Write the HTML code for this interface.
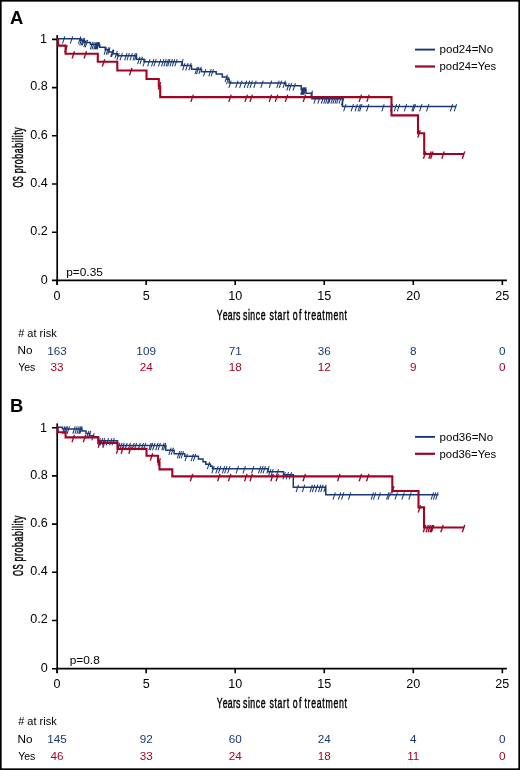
<!DOCTYPE html>
<html><head><meta charset="utf-8"><title>Kaplan-Meier OS curves</title>
<style>
html,body{margin:0;padding:0;background:#fff;}
body{width:520px;height:770px;overflow:hidden;}
svg{display:block;will-change:transform;font-family:"Liberation Sans",sans-serif;}
</style></head><body>
<svg width="520" height="770" viewBox="0 0 520 770">
<rect x="0" y="0" width="520" height="770" fill="#fff"/>
<g>
<text x="10.05" y="23.75" font-size="18.4" font-weight="bold">A</text>
<path d="M57.2 35.1V284.8" stroke="#000" stroke-width="1.7" fill="none"/>
<path d="M56.2 280.4H506.9" stroke="#000" stroke-width="1.8" fill="none"/>
<text transform="translate(47.85 284) scale(1.05 1)" font-size="12" text-anchor="end">0</text>
<text transform="translate(47.85 234.8) scale(1.05 1)" font-size="12" text-anchor="end">0.2</text>
<text transform="translate(47.85 186.8) scale(1.05 1)" font-size="12" text-anchor="end">0.4</text>
<text transform="translate(47.85 138.6) scale(1.05 1)" font-size="12" text-anchor="end">0.6</text>
<text transform="translate(47.85 90.2) scale(1.05 1)" font-size="12" text-anchor="end">0.8</text>
<text transform="translate(46.95 43.4) scale(1.05 1)" font-size="12" text-anchor="end">1</text>
<text transform="translate(57.1 299.5) scale(1.05 1)" font-size="12" text-anchor="middle">0</text>
<text transform="translate(146.15 299.5) scale(1.05 1)" font-size="12" text-anchor="middle">5</text>
<text transform="translate(235.2 299.5) scale(1.05 1)" font-size="12" text-anchor="middle">10</text>
<text transform="translate(324.25 299.5) scale(1.05 1)" font-size="12" text-anchor="middle">15</text>
<text transform="translate(413.3 299.5) scale(1.05 1)" font-size="12" text-anchor="middle">20</text>
<text transform="translate(502.35 299.5) scale(1.05 1)" font-size="12" text-anchor="middle">25</text>
<path d="M52 280.4H57M52 232.2H57M52 184H57M52 135.8H57M52 87.6H57M52 39.4H57M57.1 280.4V284.9M146.15 280.4V284.9M235.2 280.4V284.9M324.25 280.4V284.9M413.3 280.4V284.9M502.35 280.4V284.9" stroke="#000" stroke-width="1.6" fill="none"/>
<text transform="translate(0 320.1) scale(0.6000 1)" x="361.32 371.36 379.78 388.2 393.37" y="0" font-size="14.6" stroke="#000" stroke-width="0.45">Years</text>
<text transform="translate(0 320.1) scale(0.6000 1)" x="404.93 413.13 417.28 426.3 434.5" y="0" font-size="14.6" stroke="#000" stroke-width="0.45">since</text>
<text transform="translate(0 320.1) scale(0.6000 1)" x="449.1 457.47 462.6 471.79 477.72" y="0" font-size="14.6" stroke="#000" stroke-width="0.45">start</text>
<text transform="translate(0 320.1) scale(0.6000 1)" x="487.73 498.23" y="0" font-size="14.6" stroke="#000" stroke-width="0.45">of</text>
<text transform="translate(0 320.1) scale(0.6000 1)" x="507.47 512.69 518.71 527.99 537.28 542.5 555.82 565.1 574.38" y="0" font-size="14.6" stroke="#000" stroke-width="0.45">treatment</text>
<text transform="translate(23.2 0) rotate(-90) scale(0.5277 1)" x="-355.48 -343.55" y="0" font-size="14.6" stroke="#000" stroke-width="0.45">OS</text>
<text transform="translate(23.2 0) rotate(-90) scale(0.6000 1)" x="-288.62 -279.5 -273.64 -264.53 -255.41 -246.3 -237.18 -232.94 -228.71 -224.47 -219.42" y="0" font-size="14.6" stroke="#000" stroke-width="0.45">probability</text>
<text transform="translate(66.2 276) scale(1.08 1)" font-size="11">p=0.35</text>
<path d="M415 49.6H435" stroke="#1a3876" stroke-width="1.9"/>
<path d="M415 66.5H435" stroke="#a00424" stroke-width="2.2"/>
<text transform="translate(439.55 53.1) scale(1.05 1)" font-size="11">pod24=No</text>
<text transform="translate(439.55 69.5) scale(1.03 1)" font-size="11">pod24=Yes</text>
<g transform="translate(0 -0.35)"><path d="M57.1 39.2H80.4V40.9H84.2V42.8H90.4V44.9H99.7V47.6H105.2V50.2H109V52.4H112.9V54H117.3V56H136.5V59.6H144V62H182.3V65.9H191.5V69.7H201.5V72H216.2V74.3H222.3V77.4H227V79.7H229.2V83.4H285.8V86.1H301.2V90.2H306V93.6H311.9V99.1H342.5V106.9H456.2" stroke="#1a3876" stroke-width="1.5" fill="none"/>
<path d="M64.9 36.7L62.5 44M72.7 36.7L70.3 44M80.8 36.7L78.4 44M82 38.4L79.6 45.7M83.5 38.4L81.1 45.7M84.7 38.4L82.3 45.7M86.2 40.3L83.8 47.6M87.7 40.3L85.3 47.6M92.7 42.4L90.3 49.7M94.3 42.4L91.9 49.7M96.1 42.4L93.7 49.7M97.3 42.4L94.9 49.7M98.4 42.4L96 49.7M99.5 42.4L97.1 49.7M106.5 47.7L104.1 55M108.6 47.7L106.2 55M110.1 47.7L107.7 55M113 49.9L110.6 57.2M113.9 49.9L111.5 57.2M117.3 51.5L114.9 58.8M119.2 53.5L116.8 60.8M122.4 53.5L120 60.8M127 53.5L124.6 60.8M129.3 53.5L126.9 60.8M132.4 53.5L130 60.8M135.4 53.5L133 60.8M137 53.5L134.6 60.8M140 57.1L137.6 64.4M142.4 57.1L140 64.4M145.4 59.5L143 66.8M150 59.5L147.6 66.8M153.9 59.5L151.5 66.8M156.2 59.5L153.8 66.8M160.8 59.5L158.4 66.8M163.9 59.5L161.5 66.8M166.2 59.5L163.8 66.8M168.5 59.5L166.1 66.8M170 59.5L167.6 66.8M172.4 59.5L170 66.8M174.7 59.5L172.3 66.8M177.2 59.5L174.8 66.8M183.2 59.5L180.8 66.8M185 63.4L182.6 70.7M188.1 63.4L185.7 70.7M191.2 63.4L188.8 70.7M197.4 67.2L195 74.5M198.9 67.2L196.5 74.5M201.2 67.2L198.8 74.5M205.8 69.5L203.4 76.8M211.2 69.5L208.8 76.8M213.5 69.5L211.1 76.8M227.4 74.9L225 82.2M228.9 77.2L226.5 84.5M231.2 80.9L228.8 88.2M238.1 80.9L235.7 88.2M242 80.9L239.6 88.2M246.6 80.9L244.2 88.2M249.7 80.9L247.3 88.2M252.4 80.9L250 88.2M256.2 80.9L253.8 88.2M263.2 80.9L260.8 88.2M271.6 80.9L269.2 88.2M279.2 80.9L276.8 88.2M281.6 80.9L279.2 88.2M285.4 80.9L283 88.2M289.2 83.6L286.8 90.9M291.6 83.6L289.2 90.9M295.4 83.6L293 90.9M303 87.7L300.6 95M303.8 87.7L301.4 95M304.6 87.7L302.2 95M305.4 87.7L303 95M306.2 87.7L303.8 95M312.5 91.1L310.1 98.4M316.3 96.6L313.9 103.9M320.2 96.6L317.8 103.9M323.7 96.6L321.3 103.9M326 96.6L323.6 103.9M327.9 96.6L325.5 103.9M329.8 96.6L327.4 103.9M331 96.6L328.6 103.9M333.3 96.6L330.9 103.9M335.2 96.6L332.8 103.9M337.2 96.6L334.8 103.9M339 96.6L336.6 103.9M341.4 96.6L339 103.9M343.8 98.5L341.4 105.8M346 104.4L343.6 111.7M353.5 104.4L351.1 111.7M357.4 104.4L355 111.7M360.4 104.4L358 111.7M362 104.4L359.6 111.7M368.9 104.4L366.5 111.7M384.2 104.4L381.8 111.7M392.7 104.4L390.3 111.7M396.6 104.4L394.2 111.7M399.7 104.4L397.3 111.7M406.6 104.4L404.2 111.7M414.2 104.4L411.8 111.7M415.5 104.4L413.1 111.7M422 104.4L419.6 111.7M428.9 104.4L426.5 111.7M452.7 104.4L450.3 111.7M456.6 104.4L454.2 111.7" stroke="#1a3876" stroke-width="1.05" fill="none"/></g>
<g transform="translate(0 0.2)"><path d="M57.1 39.2H58.1V45.4H65.6V53.5H97.8V61.6H117.3V70.3H146.5V78.8H158.8V86H160.2V96.9H391.5V115.2H418V133.1H424.2V153.8H463.8" stroke="#a00424" stroke-width="2.1" fill="none"/>
<path d="M67.2 45L64.8 52.3M74.5 51L72.1 58.3M86.5 51L84.1 58.3M104.7 59.1L102.3 66.4M131.9 67.8L129.5 75.1M160.7 82L158.3 89.3M193.3 94.4L190.9 101.7M231.2 94.4L228.8 101.7M247.4 94.4L245 101.7M252.4 94.4L250 101.7M271.6 94.4L269.2 101.7M277.7 94.4L275.3 101.7M287.7 94.4L285.3 101.7M305.6 94.4L303.2 101.7M361.5 94.4L359.1 101.7M369.2 94.4L366.8 101.7M420.2 130L417.8 137.3M425.8 151.3L423.4 158.6M431.2 151.3L428.8 158.6M433 151.3L430.6 158.6M444.2 151.3L441.8 158.6M464.7 151.3L462.3 158.6" stroke="#a00424" stroke-width="1.35" fill="none"/></g>
<text x="18.15" y="337.1" font-size="11">#&#160;at risk</text>
<text transform="translate(17.55 354.3) scale(1.02 1)" font-size="11.5">No</text>
<text transform="translate(18.15 371.2) scale(0.92 1)" font-size="11.5">Yes</text>
<text transform="translate(57.1 354.5) scale(1.02 1)" font-size="11.5" text-anchor="middle" fill="#1a3876">163</text>
<text transform="translate(57.1 371.4) scale(1.02 1)" font-size="11.5" text-anchor="middle" fill="#a00424">33</text>
<text transform="translate(146.15 354.5) scale(1.02 1)" font-size="11.5" text-anchor="middle" fill="#1a3876">109</text>
<text transform="translate(146.15 371.4) scale(1.02 1)" font-size="11.5" text-anchor="middle" fill="#a00424">24</text>
<text transform="translate(235.2 354.5) scale(1.02 1)" font-size="11.5" text-anchor="middle" fill="#1a3876">71</text>
<text transform="translate(235.2 371.4) scale(1.02 1)" font-size="11.5" text-anchor="middle" fill="#a00424">18</text>
<text transform="translate(324.25 354.5) scale(1.02 1)" font-size="11.5" text-anchor="middle" fill="#1a3876">36</text>
<text transform="translate(324.25 371.4) scale(1.02 1)" font-size="11.5" text-anchor="middle" fill="#a00424">12</text>
<text transform="translate(413.3 354.5) scale(1.02 1)" font-size="11.5" text-anchor="middle" fill="#1a3876">8</text>
<text transform="translate(413.3 371.4) scale(1.02 1)" font-size="11.5" text-anchor="middle" fill="#a00424">9</text>
<text transform="translate(502.35 354.5) scale(1.02 1)" font-size="11.5" text-anchor="middle" fill="#1a3876">0</text>
<text transform="translate(502.35 371.4) scale(1.02 1)" font-size="11.5" text-anchor="middle" fill="#a00424">0</text>
</g>
<g>
<text x="10.05" y="412.05" font-size="18.4" font-weight="bold">B</text>
<path d="M57.2 423.4V673.1" stroke="#000" stroke-width="1.7" fill="none"/>
<path d="M56.2 668.7H506.9" stroke="#000" stroke-width="1.8" fill="none"/>
<text transform="translate(47.85 672.3) scale(1.05 1)" font-size="12" text-anchor="end">0</text>
<text transform="translate(47.85 623.1) scale(1.05 1)" font-size="12" text-anchor="end">0.2</text>
<text transform="translate(47.85 575.1) scale(1.05 1)" font-size="12" text-anchor="end">0.4</text>
<text transform="translate(47.85 526.9) scale(1.05 1)" font-size="12" text-anchor="end">0.6</text>
<text transform="translate(47.85 478.5) scale(1.05 1)" font-size="12" text-anchor="end">0.8</text>
<text transform="translate(46.95 431.7) scale(1.05 1)" font-size="12" text-anchor="end">1</text>
<text transform="translate(57.1 687.8) scale(1.05 1)" font-size="12" text-anchor="middle">0</text>
<text transform="translate(146.15 687.8) scale(1.05 1)" font-size="12" text-anchor="middle">5</text>
<text transform="translate(235.2 687.8) scale(1.05 1)" font-size="12" text-anchor="middle">10</text>
<text transform="translate(324.25 687.8) scale(1.05 1)" font-size="12" text-anchor="middle">15</text>
<text transform="translate(413.3 687.8) scale(1.05 1)" font-size="12" text-anchor="middle">20</text>
<text transform="translate(502.35 687.8) scale(1.05 1)" font-size="12" text-anchor="middle">25</text>
<path d="M52 668.7H57M52 620.5H57M52 572.3H57M52 524.1H57M52 475.9H57M52 427.7H57M57.1 668.7V673.2M146.15 668.7V673.2M235.2 668.7V673.2M324.25 668.7V673.2M413.3 668.7V673.2M502.35 668.7V673.2" stroke="#000" stroke-width="1.6" fill="none"/>
<text transform="translate(0 708.4) scale(0.6000 1)" x="361.32 371.36 379.78 388.2 393.37" y="0" font-size="14.6" stroke="#000" stroke-width="0.45">Years</text>
<text transform="translate(0 708.4) scale(0.6000 1)" x="404.93 413.13 417.28 426.3 434.5" y="0" font-size="14.6" stroke="#000" stroke-width="0.45">since</text>
<text transform="translate(0 708.4) scale(0.6000 1)" x="449.1 457.47 462.6 471.79 477.72" y="0" font-size="14.6" stroke="#000" stroke-width="0.45">start</text>
<text transform="translate(0 708.4) scale(0.6000 1)" x="487.73 498.23" y="0" font-size="14.6" stroke="#000" stroke-width="0.45">of</text>
<text transform="translate(0 708.4) scale(0.6000 1)" x="507.47 512.69 518.71 527.99 537.28 542.5 555.82 565.1 574.38" y="0" font-size="14.6" stroke="#000" stroke-width="0.45">treatment</text>
<text transform="translate(23.2 0) rotate(-90) scale(0.5277 1)" x="-1091.38 -1079.45" y="0" font-size="14.6" stroke="#000" stroke-width="0.45">OS</text>
<text transform="translate(23.2 0) rotate(-90) scale(0.6000 1)" x="-935.78 -926.67 -920.81 -911.7 -902.58 -893.46 -884.35 -880.11 -875.88 -871.64 -866.58" y="0" font-size="14.6" stroke="#000" stroke-width="0.45">probability</text>
<text transform="translate(69.7 664.3) scale(1.08 1)" font-size="11">p=0.8</text>
<path d="M415 436.9H435" stroke="#1a3876" stroke-width="1.9"/>
<path d="M415 453.8H435" stroke="#a00424" stroke-width="2.2"/>
<text transform="translate(439.55 441.2) scale(1.05 1)" font-size="11">pod36=No</text>
<text transform="translate(439.55 457.6) scale(1.03 1)" font-size="11">pod36=Yes</text>
<g transform="translate(0 -0.35)"><path d="M57.1 427.7H62.5V429.3H82V431.3H86V433.8H89.6V436H93.5V437.2H98.3V441H117.5V445.8H165.8V450.5H174.1V454H184.7V456.7H198.4V459.3H203V462H205.8V464.7H210.5V466.7H212.5V469H268V472H283.5V475H293.3V487.6H325.8V495.2H438.5" stroke="#1a3876" stroke-width="1.5" fill="none"/>
<path d="M64.9 426.8L62.5 434.1M66.3 426.8L63.9 434.1M67.7 426.8L65.3 434.1M69.5 426.8L67.1 434.1M75.2 426.8L72.8 434.1M77.3 426.8L74.9 434.1M79.3 426.8L76.9 434.1M81 426.8L78.6 434.1M82.2 426.8L79.8 434.1M88.9 431.3L86.5 438.6M90.8 431.3L88.4 438.6M94.2 433.5L91.8 440.8M100.4 438.5L98 445.8M102.8 438.5L100.4 445.8M104.8 438.5L102.4 445.8M108.6 438.5L106.2 445.8M112 438.5L109.6 445.8M114.4 438.5L112 445.8M119.8 443.3L117.4 450.6M122 443.3L119.6 450.6M124.2 443.3L121.8 450.6M127.2 443.3L124.8 450.6M130.4 443.3L128 450.6M134.2 443.3L131.8 450.6M136.6 443.3L134.2 450.6M140.4 443.3L138 450.6M143.5 443.3L141.1 450.6M145.8 443.3L143.4 450.6M151.2 443.3L148.8 450.6M152.7 443.3L150.3 450.6M155 443.3L152.6 450.6M158.1 443.3L155.7 450.6M160.4 443.3L158 450.6M164.2 443.3L161.8 450.6M165.8 443.3L163.4 450.6M171.2 448L168.8 455.3M173.5 448L171.1 455.3M179.7 451.5L177.3 458.8M181.5 451.5L179.1 458.8M183.5 451.5L181.1 458.8M187.4 454.2L185 461.5M193.5 454.2L191.1 461.5M195.8 454.2L193.4 461.5M209.7 462.2L207.3 469.5M214.2 466.5L211.8 473.8M218.2 466.5L215.8 473.8M220.8 466.5L218.4 473.8M224.7 466.5L222.3 473.8M227 466.5L224.6 473.8M230 466.5L227.6 473.8M238.5 466.5L236.1 473.8M245.4 466.5L243 473.8M253.9 466.5L251.5 473.8M260.8 466.5L258.4 473.8M263.1 466.5L260.7 473.8M265.4 466.5L263 473.8M269.2 466.5L266.8 473.8M270.8 469.5L268.4 476.8M273.2 469.5L270.8 476.8M278.5 469.5L276.1 476.8M285.4 472.5L283 479.8M288.5 472.5L286.1 479.8M291.6 472.5L289.2 479.8M298.5 485.1L296.1 492.4M304.7 485.1L302.3 492.4M312.4 485.1L310 492.4M314.7 485.1L312.3 492.4M317.7 485.1L315.3 492.4M320.8 485.1L318.4 492.4M323.1 485.1L320.7 492.4M326.2 485.1L323.8 492.4M335.4 492.7L333 500M340.8 492.7L338.4 500M343.9 492.7L341.5 500M350.8 492.7L348.4 500M373.5 492.7L371.1 500M375.8 492.7L373.4 500M380.4 492.7L378 500M388.9 492.7L386.5 500M390.4 492.7L388 500M397.4 492.7L395 500M404.3 492.7L401.9 500M411.2 492.7L408.8 500M433.5 492.7L431.1 500M435.8 492.7L433.4 500M438.1 492.7L435.7 500" stroke="#1a3876" stroke-width="1.05" fill="none"/></g>
<g transform="translate(0 0.2)"><path d="M57.1 427.7H57.8V432H65.6V437.2H98.3V442.7H117.5V448.7H146.5V455.6H158V462H159.5V469.2H172.3V476.2H392.3V490.8H418.5V507.2H424V527.3H464.2" stroke="#a00424" stroke-width="2.1" fill="none"/>
<path d="M74.4 434.7L72 442M85.7 434.7L83.3 442M100.6 440.2L98.2 447.5M105.2 440.2L102.8 447.5M118.8 446.2L116.4 453.5M123.5 446.2L121.1 453.5M131.2 446.2L128.8 453.5M152.7 453.1L150.3 460.4M160.4 458L158 465.3M192.7 473.7L190.3 481M220 473.7L217.6 481M230.8 473.7L228.4 481M247 473.7L244.6 481M252.4 473.7L250 481M273.2 473.7L270.8 481M278.5 473.7L276.1 481M305.4 473.7L303 481M340 473.7L337.6 481M361.6 473.7L359.2 481M368.9 473.7L366.5 481M394 486L391.6 493.3M420.6 505L418.2 512.3M425.7 524.8L423.3 532.1M428.4 524.8L426 532.1M430.4 524.8L428 532.1M432.4 524.8L430 532.1M433.8 524.8L431.4 532.1M443.2 524.8L440.8 532.1M464.7 524.8L462.3 532.1" stroke="#a00424" stroke-width="1.35" fill="none"/></g>
<text x="18.15" y="725.4" font-size="11">#&#160;at risk</text>
<text transform="translate(17.55 742.6) scale(1.02 1)" font-size="11.5">No</text>
<text transform="translate(18.15 759.5) scale(0.92 1)" font-size="11.5">Yes</text>
<text transform="translate(57.1 742.8) scale(1.02 1)" font-size="11.5" text-anchor="middle" fill="#1a3876">145</text>
<text transform="translate(57.1 759.7) scale(1.02 1)" font-size="11.5" text-anchor="middle" fill="#a00424">46</text>
<text transform="translate(146.15 742.8) scale(1.02 1)" font-size="11.5" text-anchor="middle" fill="#1a3876">92</text>
<text transform="translate(146.15 759.7) scale(1.02 1)" font-size="11.5" text-anchor="middle" fill="#a00424">33</text>
<text transform="translate(235.2 742.8) scale(1.02 1)" font-size="11.5" text-anchor="middle" fill="#1a3876">60</text>
<text transform="translate(235.2 759.7) scale(1.02 1)" font-size="11.5" text-anchor="middle" fill="#a00424">24</text>
<text transform="translate(324.25 742.8) scale(1.02 1)" font-size="11.5" text-anchor="middle" fill="#1a3876">24</text>
<text transform="translate(324.25 759.7) scale(1.02 1)" font-size="11.5" text-anchor="middle" fill="#a00424">18</text>
<text transform="translate(413.3 742.8) scale(1.02 1)" font-size="11.5" text-anchor="middle" fill="#1a3876">4</text>
<text transform="translate(413.3 759.7) scale(1.02 1)" font-size="11.5" text-anchor="middle" fill="#a00424">11</text>
<text transform="translate(502.35 742.8) scale(1.02 1)" font-size="11.5" text-anchor="middle" fill="#1a3876">0</text>
<text transform="translate(502.35 759.7) scale(1.02 1)" font-size="11.5" text-anchor="middle" fill="#a00424">0</text>
</g>
<rect x="0.8" y="0.8" width="518.4" height="768.4" fill="none" stroke="#000" stroke-width="1.7"/>
</svg>
</body></html>
